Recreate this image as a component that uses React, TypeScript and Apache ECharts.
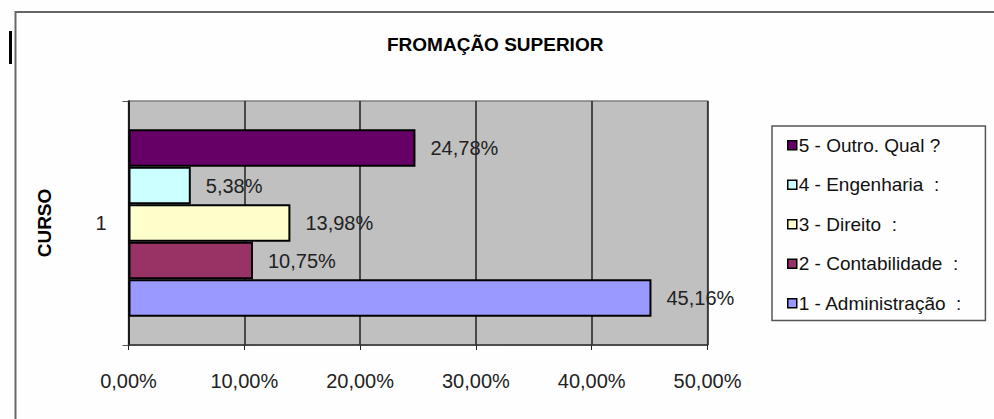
import React, { useEffect, useRef } from "react";
import * as echarts from "echarts";

const categories = ["1"];
const seriesNames = [
  "1 - Administração  :",
  "2 - Contabilidade  :",
  "3 - Direito  :",
  "4 - Engenharia  :",
  "5 - Outro. Qual ?",
];
const seriesValues = [45.16, 10.75, 13.98, 5.38, 24.78];
const seriesColors = ["#9999FF", "#993366", "#FFFFCC", "#CCFFFF", "#660066"];
const xMin = 0;
const xMax = 50;
const xStep = 10;
const titleText = "FROMAÇÃO SUPERIOR";
const yAxisName = "CURSO";

const FONT = "'Liberation Sans', Arial, sans-serif";
const fmt = (v: number) => v.toFixed(2).replace(".", ",") + "%";

export default function App() {
  const ref = useRef<HTMLDivElement>(null);
  useEffect(() => {
    if (!ref.current) return;
    const chart = echarts.init(ref.current, null, { renderer: "svg" });
    // ECharts stacks horizontal grouped bars top-down in series order,
    // so feed series 5..1 to get 1 at the bottom as in the reference.
    const order = seriesNames.map((_, i) => i).reverse();
    chart.setOption({
      animation: false,
      backgroundColor: "#FEFEFE",
      textStyle: { fontFamily: FONT },
      title: {
        text: titleText,
        left: 387,
        top: 35,
        padding: 0,
        textStyle: { fontFamily: FONT, fontWeight: "bold", fontSize: 19, color: "#000" },
      },
      graphic: [
        {
          type: "rect",
          shape: { x: 15.5, y: 12, width: 1000, height: 500 },
          style: { fill: "none", stroke: "#666", lineWidth: 2 },
          silent: true,
        },
        {
          type: "rect",
          shape: { x: 9, y: 31, width: 3, height: 33 },
          style: { fill: "#000" },
          silent: true,
        },
      ],
      legend: {
        orient: "vertical",
        left: 772,
        top: 126,
        data: [...seriesNames].reverse(),
        icon: "rect",
        itemWidth: 9,
        itemHeight: 9,
        itemGap: 19,
        padding: [9, 23, 7, 15],
        borderColor: "#555",
        borderWidth: 1.5,
        backgroundColor: "#FEFEFE",
        itemStyle: { borderColor: "#000", borderWidth: 1.5 },
        textStyle: { fontFamily: FONT, fontSize: 19, color: "#111", lineHeight: 20.5, padding: [0, 0, 0, -3] },
      },
      grid: {
        left: 128.5,
        right: 286.5,
        top: 101,
        bottom: 74,
        show: true,
        backgroundColor: "#C0C0C0",
        borderColor: "#808080",
        borderWidth: 1.5,
      },
      xAxis: {
        type: "value",
        min: xMin,
        max: xMax,
        interval: xStep,
        axisLine: { show: true, lineStyle: { color: "#333", width: 1.5 } },
        axisTick: { show: true, length: 5, lineStyle: { color: "#222" } },
        axisLabel: {
          formatter: (v: number) => fmt(v),
          fontFamily: FONT,
          fontSize: 20,
          color: "#222",
          margin: 26,
        },
        splitLine: { show: true, lineStyle: { color: "#222", width: 1.5 } },
      },
      yAxis: {
        type: "category",
        data: categories,
        name: yAxisName,
        nameLocation: "middle",
        nameGap: 75,
        nameRotate: 90,
        nameTextStyle: { fontFamily: FONT, fontWeight: "bold", fontSize: 19, color: "#000" },
        axisLine: { show: true, lineStyle: { color: "#111", width: 1.5 } },
        axisTick: { show: true, length: 6, lineStyle: { color: "#555" } },
        axisLabel: { fontFamily: FONT, fontSize: 20, color: "#222", margin: 22 },
      },
      series: order.map((i) => ({
        type: "bar",
        name: seriesNames[i],
        data: [seriesValues[i]],
        barWidth: 37.5,
        barGap: "0%",
        itemStyle: { color: seriesColors[i], borderColor: "#000", borderWidth: 2 },
        label: {
          show: true,
          position: "right",
          distance: 15,
          formatter: (p: any) => fmt(p.value),
          fontFamily: FONT,
          fontSize: 20,
          color: "#222",
        },
      })),
    });
    return () => chart.dispose();
  }, []);
  return (
    <div
      ref={ref}
      style={{ position: "fixed", left: 0, top: 0, width: 994, height: 419 }}
    />
  );
}
